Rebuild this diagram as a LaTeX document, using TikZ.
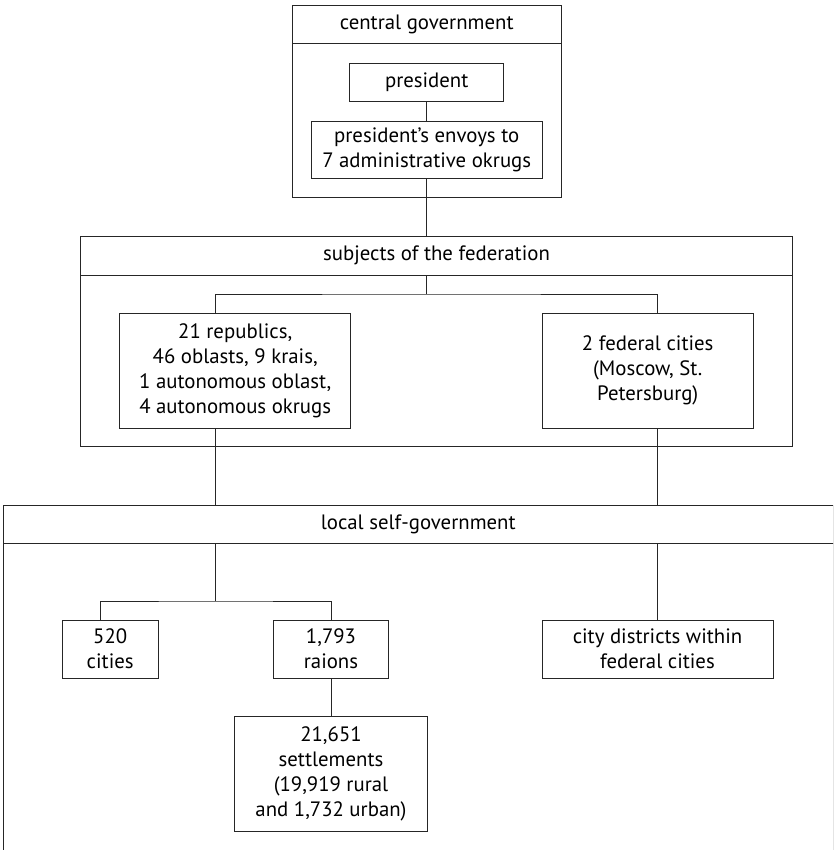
\documentclass[tikz,border=0pt]{standalone}
\usepackage{fontspec}
\setmainfont{PT Sans}
\usetikzlibrary{positioning}

\begin{document}
\begin{tikzpicture}[x=1pt, y=-1pt, font=\fontsize{20.8}{25}\selectfont]

    \tikzstyle{box} = [rectangle, draw=black!85, line width=0.9pt, inner sep=0pt, align=center]
    \tikzstyle{line} = [draw=black!85, line width=0.9pt]

    \useasboundingbox (0,0) rectangle (833,850);
    \clip (0,0) rectangle (833,850);

    % Central government
    \node (centraltitle) [box, minimum width=268.7pt, minimum height=37.6pt] at (426.7,24.5) {central government};
    \node (central) [box, minimum width=268.7pt, minimum height=154.4pt] at (426.7,120.5) {};
    \node (president) [box, minimum width=154pt, minimum height=37.7pt] at (426.7,82.2) {president};
    \node (envoys) [box, minimum width=230.6pt, minimum height=57.3pt] at (426.7,149.7) {president's envoys to\\7 administrative okrugs};

    % Subjects of the federation
    \node (subjtitle) [box, minimum width=712.4pt, minimum height=38.3pt] at (436.5,255.8) {subjects of the federation};
    \node (subjects) [box, minimum width=712.4pt, minimum height=171.7pt] at (436.5,360.8) {};
    \node (republics) [box, minimum width=231pt, minimum height=115pt] at (235.2,370.5) {21 republics,\\46 oblasts, 9 krais,\\1 autonomous oblast,\\4 autonomous okrugs};
    \node (fedcities) [box, minimum width=211.3pt, minimum height=115pt] at (647.7,370.5) {2 federal cities\\(Moscow, St.\\Petersburg)};

    % Local self-government
    \node (localtitle) [box, minimum width=829.7pt, minimum height=38.3pt] at (418.2,524.2) {local self-government};
    \node (local) [box, minimum width=829.7pt, minimum height=340pt, anchor=north] at (418.2,543.3) {};
    \node (cities) [box, minimum width=96.3pt, minimum height=58pt] at (110.2,649) {520\\cities};
    \node (raions) [box, minimum width=115.4pt, minimum height=58pt] at (331,649) {1,793\\raions};
    \node (settlements) [box, minimum width=192.3pt, minimum height=115.4pt] at (331,774) {21,651\\settlements\\(19,919 rural\\and 1,732 urban)};
    \node (districts) [box, minimum width=231pt, minimum height=58pt] at (657.5,649) {city districts within\\federal cities};

    % Connectors
    \coordinate (subjfork) at (426.7,294);
    \coordinate (localfork) at (215.7,601);
    \coordinate (repdown) at ([xshift=-19.5pt]republics.south);
    \coordinate (feddown) at ([xshift=10pt]fedcities.south);
    \coordinate (citiesup) at ([xshift=-10pt]cities.north);

    \draw [line] (president) -- (envoys);
    \draw [line] (envoys.south) -- (envoys.south |- subjtitle.north);
    \draw [line] (subjtitle.south -| subjfork) -- (subjfork);
    \draw [line] (repdown |- republics.north) |- (subjfork) -| (feddown |- fedcities.north);
    \draw [line] (repdown) -- (repdown |- localtitle.north);
    \draw [line] (feddown) -- (feddown |- localtitle.north);
    \draw [line] (localtitle.south -| localfork) -- (localfork);
    \draw [line] (citiesup) |- (localfork) -| (raions.north);
    \draw [line] (raions) -- (settlements);
    \draw [line] (localtitle.south -| districts.north) -- (districts.north);

\end{tikzpicture}
\end{document}
